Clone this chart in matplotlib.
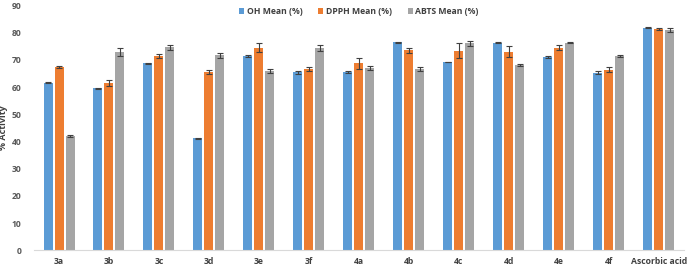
import matplotlib
matplotlib.use('Agg')
import matplotlib.pyplot as plt
import numpy as np

categories = ['3a', '3b', '3c', '3d', '3e', '3f', '4a', '4b', '4c', '4d', '4e', '4f', 'Ascorbic acid']
oh_mean = [61.5, 59.6, 68.7, 41.1, 71.4, 65.4, 65.5, 76.4, 69.2, 76.3, 70.9, 65.3, 81.8]
oh_err = [0.2, 0.2, 0.2, 0.2, 0.4, 0.6, 0.3, 0.3, 0.1, 0.1, 0.4, 0.6, 0.3]
dpph_mean = [67.4, 61.4, 71.4, 65.5, 74.5, 66.5, 68.7, 73.5, 73.4, 72.9, 74.4, 66.4, 81.3]
dpph_err = [0.4, 1.0, 0.9, 0.8, 1.6, 0.8, 2.0, 1.0, 2.9, 2.0, 0.9, 0.8, 0.5]
abts_mean = [42.1, 72.9, 74.6, 71.7, 66.0, 74.4, 67.0, 66.5, 76.0, 68.1, 76.3, 71.3, 80.9]
abts_err = [0.4, 1.6, 1.0, 0.9, 0.8, 1.2, 0.6, 0.8, 1.0, 0.5, 0.2, 0.3, 0.6]

series = [
    ('OH Mean (%)', oh_mean, oh_err, '#5B9BD5'),
    ('DPPH Mean (%)', dpph_mean, dpph_err, '#ED7D31'),
    ('ABTS Mean (%)', abts_mean, abts_err, '#A5A5A5'),
]

plt.rcParams['font.family'] = ['Open Sans', 'DejaVu Sans']

fig = plt.figure(figsize=(6.87, 2.68), dpi=100)
ax = fig.add_axes([0.0495, 0.066, 0.946, 0.914])

x = np.arange(len(categories))
w = 0.18
offsets = [-0.22, 0.0, 0.22]
for (label, vals, errs, col), off in zip(series, offsets):
    ax.bar(x + off, vals, w, color=col, label=label, zorder=2,
           yerr=errs, error_kw=dict(ecolor='#404040', elinewidth=0.8, capsize=2, capthick=0.8))

ax.set_xlim(-0.5, len(categories) - 0.5)
ax.set_ylim(0, 90)
ax.set_yticks(range(0, 91, 10))
ax.set_xticks(x)
ax.set_xticklabels(categories)
ax.tick_params(axis='y', length=0, labelsize=6.2, colors='#595959', pad=9)
ax.tick_params(axis='x', length=0, labelsize=6.2, colors='#404040', pad=5)
for lbl in ax.get_xticklabels() + ax.get_yticklabels():
    lbl.set_fontweight('bold')
ax.set_ylabel('% Activity', fontsize=6.5, fontweight='bold', color='#404040')
ax.yaxis.set_label_coords(-0.04, 0.5)

for s in ['top', 'right', 'left']:
    ax.spines[s].set_visible(False)
ax.spines['bottom'].set_color('#D9D9D9')

leg = ax.legend(loc='upper center', bbox_to_anchor=(0.5, 1.025), ncol=3, frameon=False,
                fontsize=6.2, handlelength=0.6, handleheight=0.6, columnspacing=1.8, handletextpad=0.3)
for t in leg.get_texts():
    t.set_fontweight('bold')
    t.set_color('#404040')

fig.savefig('out.png', dpi=100)
